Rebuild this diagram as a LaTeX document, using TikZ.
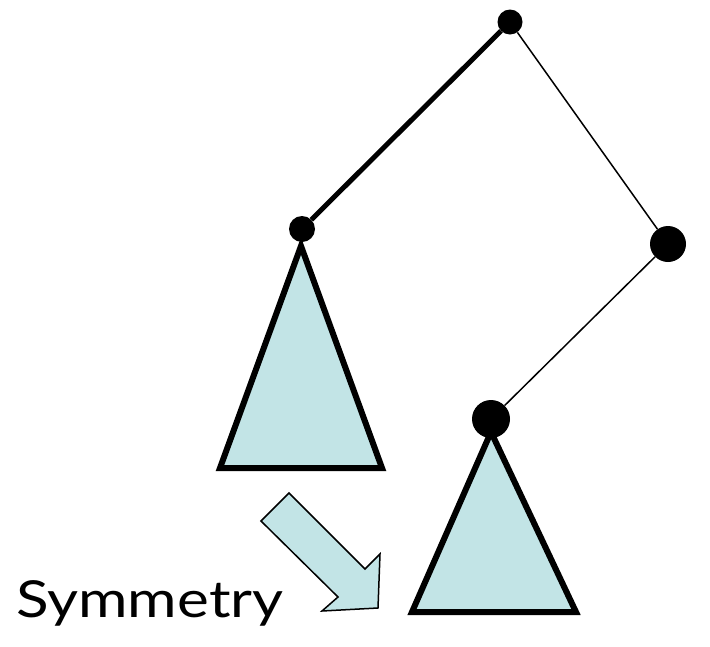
\documentclass[tikz,border=0pt]{standalone}
\usepackage{fontspec}
\setmainfont{Lato}
\definecolor{tri}{HTML}{C2E4E6}
\begin{document}
\begin{tikzpicture}[x=1pt,y=-1pt,
  dot/.style={circle,fill=black,inner sep=0pt},
  tribox/.style={fill=tri,draw=black,line width=6pt,line join=miter},
  thickedge/.style={line width=5pt},
  thinedge/.style={line width=1.5pt}]
\useasboundingbox (0,0) rectangle (710,646);
% triangles
\draw[tribox] (301,246) -- (382,468) -- (220,468) -- cycle;
\draw[tribox] (491,432) -- (576,612) -- (412,612) -- cycle;
% nodes
\node[dot,minimum size=25pt] (top) at (510,22) {};
\node[dot,minimum size=26pt] (left) at (302,229) {};
\node[dot,minimum size=36pt] (right) at (668,244) {};
\node[dot,minimum size=38pt] (bottom) at (491,419) {};
% edges
\draw[thickedge] (top) -- (left);
\draw[thinedge] (top) -- (right);
\draw[thinedge] (right) -- (bottom);
% arrow
\draw[fill=tri,line width=1.5pt,line join=miter] (289,493) -- (365,569) -- (380,554) -- (378,608) -- (322,611) -- (338,597) -- (261,521) -- cycle;
% label
\node[font=\fontsize{51}{60}\selectfont,anchor=base west,inner sep=0pt,xscale=1.18] (lab) at (16,617) {Symmetry};
\end{tikzpicture}
\end{document}
